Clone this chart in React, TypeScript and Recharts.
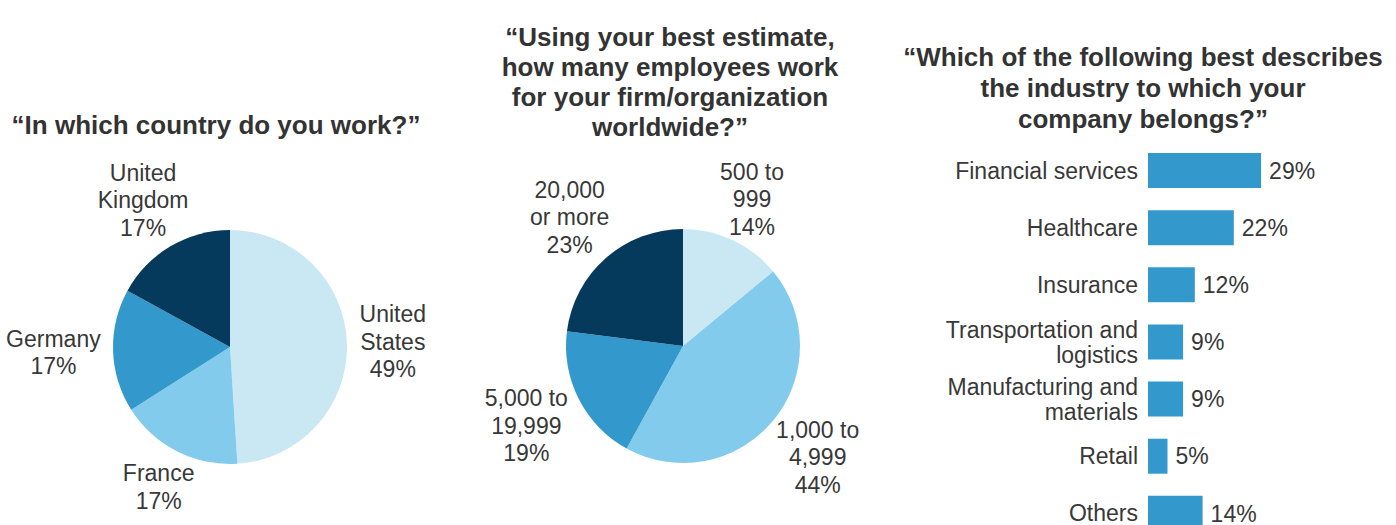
import { PieChart, Pie, Cell, BarChart, Bar, XAxis, YAxis, LabelList } from "recharts";

const countryNames = ["United\nStates", "France", "Germany", "United\nKingdom"];
const countryValues = [49, 17, 17, 17];

const sizeNames = ["500 to\n999", "1,000 to\n4,999", "5,000 to\n19,999", "20,000\nor more"];
const sizeValues = [14, 44, 19, 23];

const industryNames = [
  "Financial services",
  "Healthcare",
  "Insurance",
  "Transportation and logistics",
  "Manufacturing and materials",
  "Retail",
  "Others",
];
const industryValues = [29, 22, 12, 9, 9, 5, 14];

const pieColors = ["#c9e8f4", "#82cbec", "#3398cb", "#053a5c"];
const BAR_COLOR = "#3398cb";
const TEXT = "#383838";
const FONT = '"Liberation Sans", Arial, sans-serif';
const RADIAN = Math.PI / 180;
const LINE = 27.5;

const countryData = countryNames.map((name, i) => ({ name, value: countryValues[i] }));
const sizeData = sizeNames.map((name, i) => ({ name, value: sizeValues[i] }));
const industryData = industryNames.map((name, i) => ({ name, value: industryValues[i] }));

let ctx: CanvasRenderingContext2D | null = null;
function textWidth(s: string) {
  if (!ctx && typeof document !== "undefined") {
    ctx = document.createElement("canvas").getContext("2d");
    if (ctx) ctx.font = `23px ${FONT}`;
  }
  return ctx ? ctx.measureText(s).width : s.length * 12;
}

// place each label block just outside the pie, pushed out by its own size
function renderPieLabel(props: any) {
  const { cx, cy, midAngle, outerRadius, value } = props;
  const name = props.payload?.name ?? props.name;
  const lines = [...String(name).split("\n"), `${value}%`];
  const ux = Math.cos(-midAngle * RADIAN);
  const uy = Math.sin(-midAngle * RADIAN);
  const halfW = Math.max(...lines.map(textWidth)) / 2;
  const halfH = ((lines.length - 1) * LINE + 17) / 2;
  const r = outerRadius + 12 + Math.abs(ux) * halfW + 0.6 * Math.abs(uy) * halfH;
  const x = cx + r * ux;
  const y = cy + r * uy;
  const top = y - ((lines.length - 1) * LINE) / 2 + 8;
  return (
    <text x={x} y={top} textAnchor="middle" fill={TEXT} fontSize={23} fontFamily={FONT}>
      {lines.map((l, i) => (
        <tspan key={i} x={x} y={top + i * LINE}>
          {l}
        </tspan>
      ))}
    </text>
  );
}

function splitIndustry(label: string) {
  const i = label.indexOf(" and ");
  return i < 0 ? [label] : [label.slice(0, i + 4), label.slice(i + 5)];
}

function renderIndustryTick(props: any) {
  const { x, y, payload } = props;
  const lines = splitIndustry(String(payload.value));
  const top = y - ((lines.length - 1) * 25) / 2 + 8;
  return (
    <text x={x} y={top} textAnchor="end" fill={TEXT} fontSize={23} fontFamily={FONT}>
      {lines.map((l, i) => (
        <tspan key={i} x={x} y={top + i * 25}>
          {l}
        </tspan>
      ))}
    </text>
  );
}

const titleStyle = {
  position: "absolute" as const,
  textAlign: "center" as const,
  fontWeight: 700,
  fontSize: 26,
  whiteSpace: "nowrap" as const,
  color: "#333",
  fontFamily: FONT,
};

export default function App() {
  return (
    <div
      style={{
        position: "absolute",
        left: 0,
        top: 0,
        width: 1396,
        height: 525,
        overflow: "hidden",
        background: "#fff",
        fontFamily: FONT,
      }}
    >
      <div style={{ position: "absolute", left: 0, top: 0 }}>
        <PieChart width={460} height={525}>
          <Pie
            data={countryData}
            dataKey="value"
            nameKey="name"
            cx={225}
            cy={342}
            outerRadius={117}
            startAngle={90}
            endAngle={-270}
            stroke="none"
            label={renderPieLabel}
            labelLine={false}
            isAnimationActive={false}
          >
            {countryData.map((d, i) => (
              <Cell key={d.name} fill={pieColors[i]} />
            ))}
          </Pie>
        </PieChart>
      </div>

      <div style={{ position: "absolute", left: 460, top: 0 }}>
        <PieChart width={440} height={525}>
          <Pie
            data={sizeData}
            dataKey="value"
            nameKey="name"
            cx={218}
            cy={341}
            outerRadius={117}
            startAngle={90}
            endAngle={-270}
            stroke="none"
            label={renderPieLabel}
            labelLine={false}
            isAnimationActive={false}
          >
            {sizeData.map((d, i) => (
              <Cell key={d.name} fill={pieColors[i]} />
            ))}
          </Pie>
        </PieChart>
      </div>

      <div style={{ position: "absolute", left: 900, top: 0 }}>
        <BarChart
          width={496}
          height={544}
          layout="vertical"
          data={industryData}
          margin={{ top: 142, right: 92, bottom: 2, left: 0 }}
        >
          <XAxis type="number" domain={[0, 40]} hide />
          <YAxis
            type="category"
            dataKey="name"
            width={248}
            axisLine={false}
            tickLine={false}
            tickSize={0}
            tickMargin={10}
            interval={0}
            tick={renderIndustryTick}
          />
          <Bar dataKey="value" fill={BAR_COLOR} barSize={35} isAnimationActive={false}>
            <LabelList
              dataKey="value"
              position="right"
              offset={8}
              formatter={(v: any) => `${v}%`}
              fill={TEXT}
              fontSize={23}
              fontFamily={FONT}
            />
          </Bar>
        </BarChart>
      </div>

      <div style={{ ...titleStyle, left: 0, width: 432, top: 110, lineHeight: "30px" }}>
        “In which country do you work?”
      </div>
      <div style={{ ...titleStyle, left: 470, width: 400, top: 22, lineHeight: "30px" }}>
        “Using your best estimate,
        <br />
        how many employees work
        <br />
        for your firm/organization
        <br />
        worldwide?”
      </div>
      <div style={{ ...titleStyle, left: 900, width: 486, top: 42, lineHeight: "31px" }}>
        “Which of the following best describes
        <br />
        the industry to which your
        <br />
        company belongs?”
      </div>
    </div>
  );
}
